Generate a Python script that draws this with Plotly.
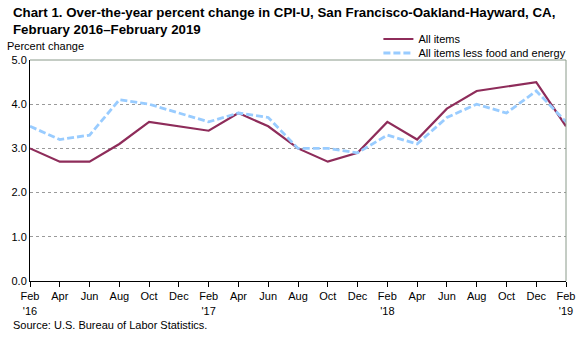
import plotly.graph_objects as go

months = ["Feb", "Apr", "Jun", "Aug", "Oct", "Dec",
          "Feb", "Apr", "Jun", "Aug", "Oct", "Dec",
          "Feb", "Apr", "Jun", "Aug", "Oct", "Dec", "Feb"]
tick_labels = ["Feb<br>'16", "Apr", "Jun", "Aug", "Oct", "Dec",
               "Feb<br>'17", "Apr", "Jun", "Aug", "Oct", "Dec",
               "Feb<br>'18", "Apr", "Jun", "Aug", "Oct", "Dec", "Feb<br>'19"]
all_items = [3.0, 2.7, 2.7, 3.1, 3.6, 3.5, 3.4, 3.8, 3.5, 3.0, 2.7, 2.9,
             3.6, 3.2, 3.9, 4.3, 4.4, 4.5, 3.5]
core_items = [3.5, 3.2, 3.3, 4.1, 4.0, 3.8, 3.6, 3.8, 3.7, 3.0, 3.0, 2.9,
              3.3, 3.1, 3.7, 4.0, 3.8, 4.3, 3.6]
y_ticks = [0, 1, 2, 3, 4, 5]
y_tick_text = ["0.0", "1.0", "2.0", "3.0", "4.0", "5.0"]

x = list(range(len(months)))
font = "Liberation Sans, Arial, sans-serif"

fig = go.Figure()
fig.add_trace(go.Scatter(x=x, y=all_items, mode="lines", name="All items",
                         line=dict(color="#8E2C5A", width=2.2), legend="legend"))
fig.add_trace(go.Scatter(x=x, y=core_items, mode="lines",
                         name="All items less food and energy",
                         line=dict(color="#99CCFF", width=2.8, dash="7px,3px"),
                         legend="legend2"))

leg_common = dict(xanchor="left", yanchor="middle", bgcolor="rgba(0,0,0,0)",
                  font=dict(size=11), itemwidth=30)

fig.update_layout(
    width=587, height=337,
    margin=dict(l=28, r=19, t=60, b=56),
    paper_bgcolor="white", plot_bgcolor="white",
    font=dict(family=font, size=11, color="black"),
    showlegend=True,
    legend=dict(x=0.65, y=1.095, **leg_common),
    legend2=dict(x=0.65, y=1.0317, **leg_common),
    xaxis=dict(range=[0, len(x) - 1], tickmode="array", tickvals=x, ticktext=tick_labels,
               showgrid=False, showline=True, linecolor="black", linewidth=1,
               ticks="outside", ticklen=5, tickcolor="black", zeroline=False,
               tickfont=dict(size=11)),
    yaxis=dict(range=[0, 5], tickmode="array", tickvals=y_ticks, ticktext=y_tick_text,
               showgrid=True, gridcolor="#9A9A9A", gridwidth=1, griddash="dot",
               showline=True, linecolor="black", linewidth=1, ticks="",
               zeroline=False, tickfont=dict(size=11)),
)
# right border and top line
fig.add_shape(type="line", xref="paper", yref="paper", x0=1, x1=1, y0=0, y1=1,
              line=dict(color="#8A9A8A", width=1))
fig.add_shape(type="line", xref="paper", yref="paper", x0=0, x1=1, y0=1, y1=1,
              line=dict(color="#8A9A8A", width=1))
fig.add_annotation(text="<b>Chart 1. Over-the-year percent change in CPI-U, San Francisco-Oakland-Hayward, CA,</b>",
                   xref="paper", yref="paper", x=-0.034, y=(281 - 12.5) / 221, xanchor="left",
                   yanchor="middle", borderpad=0, showarrow=False,
                   font=dict(size=13.3, family=font))
fig.add_annotation(text="<b>February 2016–February 2019</b>",
                   xref="paper", yref="paper", x=-0.034, y=(281 - 29) / 221, xanchor="left",
                   yanchor="middle", borderpad=0, showarrow=False,
                   font=dict(size=13.3, family=font))
fig.add_annotation(text="Percent change", xref="paper", yref="paper", x=-0.047, y=1.063,
                   xanchor="left", yanchor="middle", showarrow=False,
                   font=dict(size=11))
fig.add_annotation(text="Source: U.S. Bureau of Labor Statistics.", xref="paper", yref="paper",
                   x=-0.036, y=-0.199, xanchor="left", yanchor="middle", showarrow=False,
                   font=dict(size=11))

fig.write_html("out.html")
